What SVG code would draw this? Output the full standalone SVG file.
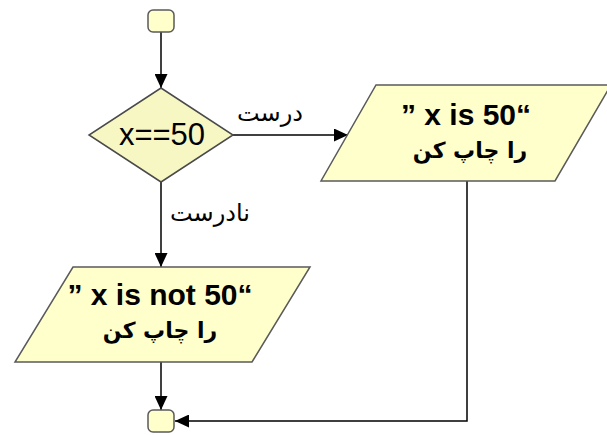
<svg xmlns="http://www.w3.org/2000/svg" width="607" height="435" viewBox="0 0 607 435">
<style>
.node{fill:#FFFFCC;stroke:#5a5a5a;stroke-width:1.5}
.dia{fill:#F7F7C4;stroke:#4a4a4a;stroke-width:1.5}
.con{fill:none;stroke:#000;stroke-width:1.5}
.lat{font-family:"Liberation Sans",Arial,sans-serif;fill:#000;text-anchor:middle}
.bold{font-weight:bold;font-size:30px}
.fa{font-family:"DejaVu Sans","Noto Sans",sans-serif;fill:#000;text-anchor:middle}
.pr{font-size:22px;font-weight:bold}
</style>
<defs>
<marker id="arr" markerUnits="userSpaceOnUse" markerWidth="15" markerHeight="13" refX="14" refY="6.5" orient="auto">
<path d="M0,0 L14,6.5 L0,13 z" fill="#000"/>
</marker>
</defs>
<rect width="607" height="435" fill="#fff"/>
<g id="connectors">
<line class="con" x1="161" y1="32" x2="161" y2="88" marker-end="url(#arr)"/>
<line class="con" x1="233" y1="135" x2="348" y2="135" marker-end="url(#arr)"/>
<line class="con" x1="161" y1="182" x2="161" y2="267" marker-end="url(#arr)"/>
<line class="con" x1="161" y1="362" x2="161" y2="410" marker-end="url(#arr)"/>
<polyline class="con" points="467,181 467,421 175,421" marker-end="url(#arr)"/>
<text class="fa" x="270" y="121" font-size="24">درست</text>
<text class="fa" x="210" y="221" font-size="24">نادرست</text>
</g>
<g id="start">
<rect class="node" x="148" y="10" width="26" height="22" rx="5"/>
</g>
<g id="decision">
<polygon class="dia" points="161,88 233,135 161,182 89,135"/>
<text class="lat" x="162" y="145" font-size="31">x==50</text>
</g>
<g id="print50">
<polygon class="node" points="376,85 611,85 555,181 321,181"/>
<text class="lat bold" x="466" y="125">” x is 50“</text>
<text class="fa pr" x="470" y="158">را چاپ کن</text>
</g>
<g id="printNot50">
<polygon class="node" points="73,267 310,267 252,362 15,362"/>
<text class="lat bold" x="160" y="305">” x is not 50“</text>
<text class="fa pr" x="160" y="338">را چاپ کن</text>
</g>
<g id="end">
<rect class="node" x="148" y="410" width="26" height="22" rx="5"/>
</g>
</svg>
